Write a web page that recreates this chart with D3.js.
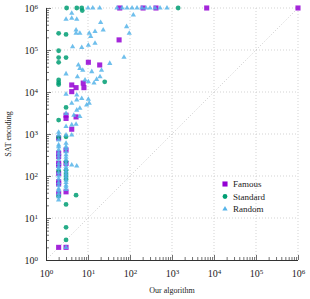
<!DOCTYPE html>
<html>
<head>
<meta charset="utf-8">
<script src="https://cdn.jsdelivr.net/npm/d3@7"></script>
<style>
  body { margin: 0; background: #fff; }
  svg { display: block; }
  svg text { font-family: "Liberation Serif", "DejaVu Serif", serif; fill: #222; }
</style>
</head>
<body>
<svg id="chart" width="310" height="299"></svg>
<script>
// values: [our algorithm, SAT encoding]
var famous = [
  [2, 2], [3, 2], [3, 42], [2, 39], [2, 65], [2, 73], [2, 116], [2, 180], [2, 200], [2, 290], [2, 350],
  [3, 200], [3, 415], [2, 800], [4.1, 1300], [3, 2350], [3, 2800], [5.2, 2550],
  [4.1, 14700], [5.2, 12700], [4.1, 10200], [7.7, 16300], [8, 12700],
  [10.2, 51000], [19, 44000], [55, 174000],
  [57, 1e6], [205, 1e6], [415, 1e6], [6700, 1e6], [1e6, 1e6]
];
var standard = [
  [3.1, 1e6], [5.4, 1e6], [7.1, 1e6], [7.3, 870000], [1400, 1e6],
  [2, 250000], [3, 235000], [2, 96000], [2, 66000], [3, 66000], [2, 51000],
  [2, 19300], [2, 16700], [2, 15000], [25, 17500],
  [3, 4300], [2, 2150], [3, 860], [2, 830],
  [2, 134], [3, 220], [3, 138], [3, 112], [3, 96], [3, 83], [2, 33], [3, 21], [5.2, 35], [3, 6], [3, 3]
];
var random = [
  [10, 1e6], [13, 1e6], [19, 1e6], [49, 1e6], [65, 1e6], [85, 1e6], [112, 1e6], [147, 1e6],
  [193, 1e6], [240, 1e6], [300, 1e6], [395, 1e6], [520, 1e6], [760, 1e6],
  [4.1, 750000], [3, 540000], [4.1, 570000], [5.4, 540000], [20, 450000], [5.2, 300000],
  [5.2, 250000], [6.4, 250000], [10.7, 250000], [11.6, 210000], [14.7, 275000], [23, 300000],
  [10.2, 130000], [14.7, 145000], [4.3, 120000], [7.1, 115000], [83, 360000], [96, 250000],
  [120, 680000], [72, 67000], [33, 48000], [5.9, 44000], [6.4, 36500], [7.5, 33000],
  [3, 27000], [5.6, 23000], [8.5, 19300], [10.2, 17600], [16, 20000], [13.9, 16300],
  [19.3, 23000], [12.3, 30500], [21, 33000], [3, 8900], [5.4, 8500], [7.1, 7000],
  [5.4, 6500], [4.1, 5400], [10.7, 5400], [9.3, 4900], [10.2, 6700], [3, 3100],
  [5.4, 3700], [6.4, 4100], [4.6, 2800], [6.4, 2600], [5.2, 1700], [4.1, 1650],
  [3, 1500], [2, 1100], [2, 950], [2, 720], [3, 950], [3, 600], [2, 550], [4.1, 950],
  [2, 500], [2, 420], [2, 350], [2, 300], [2, 250], [2, 200], [2, 170], [2, 150], [2, 120],
  [2, 100], [2, 85], [2, 70], [2, 60], [2, 50], [2, 45], [2, 38], [2, 32], [2, 27],
  [3, 500], [3, 450], [3, 380], [3, 320], [3, 280], [3, 240], [3, 200], [3, 170], [3, 150],
  [3, 130], [3, 110], [3, 95], [3, 80], [3, 70], [3, 60], [3, 55], [3, 48],
  [4.1, 182], [5.4, 173], [3, 2]
];
var seriesNames = ["Famous", "Standard", "Random"];
var seriesColors = ["#9400d3", "#009e73", "#56b4e9"];
var decades = [1, 10, 100, 1000, 10000, 100000, 1000000];

var svg = d3.select("#chart"),
    margin = {top: 8, right: 12, bottom: 39, left: 46},
    width = svg.attr("width") - margin.left - margin.right,
    height = svg.attr("height") - margin.top - margin.bottom;

var x = d3.scaleLog().domain([1, 1e6]).range([0, width]),
    y = d3.scaleLog().domain([1, 1e6]).range([height, 0]);

var g = svg.append("g")
    .attr("transform", "translate(" + margin.left + "," + margin.top + ")");

// dotted grid
g.selectAll(".gx").data(decades.slice(1)).enter().append("line")
    .attr("x1", function(d) { return x(d); }).attr("x2", function(d) { return x(d); })
    .attr("y1", 0).attr("y2", height)
    .attr("stroke", "#c8c8c8").attr("stroke-width", 0.8).attr("stroke-dasharray", "1,2");
g.selectAll(".gy").data(decades.slice(1)).enter().append("line")
    .attr("y1", function(d) { return y(d); }).attr("y2", function(d) { return y(d); })
    .attr("x1", 0).attr("x2", width)
    .attr("stroke", "#c8c8c8").attr("stroke-width", 0.8).attr("stroke-dasharray", "1,2");

// y = x diagonal
g.append("line")
    .attr("x1", x(1)).attr("y1", y(1)).attr("x2", x(1e6)).attr("y2", y(1e6))
    .attr("stroke", "#bbb").attr("stroke-width", 0.8).attr("stroke-dasharray", "1,2");

// axes with inward ticks
var minor = d3.range(0, 6).reduce(function(a, k) {
    return a.concat([2, 3, 4, 5, 6, 7, 8, 9].map(function(m) { return m * Math.pow(10, k); }));
}, []);

function sup(sel) {
    sel.each(function(d) {
        var t = d3.select(this).text("");
        t.append("tspan").text("10");
        t.append("tspan").attr("dy", "-0.45em").style("font-size", "7px").text(Math.round(Math.log10(d)));
    });
}

var xAxis = g.append("g").attr("transform", "translate(0," + height + ")");
xAxis.call(d3.axisTop(x).tickValues(decades).tickSize(5).tickFormat(""));
xAxis.append("g").call(d3.axisTop(x).tickValues(minor).tickSize(3).tickFormat(""));
xAxis.selectAll(".tick").filter(function(d) { return decades.indexOf(d) >= 0; })
    .append("text").attr("y", 17).attr("text-anchor", "middle")
    .style("font-size", "10px").call(sup);

var yAxis = g.append("g");
yAxis.call(d3.axisRight(y).tickValues(decades).tickSize(5).tickFormat(""));
yAxis.append("g").call(d3.axisRight(y).tickValues(minor).tickSize(3).tickFormat(""));
yAxis.selectAll(".tick").filter(function(d) { return decades.indexOf(d) >= 0; })
    .append("text").attr("x", -8).attr("dy", "0.35em").attr("text-anchor", "end")
    .style("font-size", "10px").call(sup);

g.selectAll(".domain").attr("stroke", "#333").attr("stroke-width", 1);
g.selectAll(".tick line").attr("stroke", "#333").attr("stroke-width", 0.7);
// only bottom and left spines
xAxis.selectAll(".domain").attr("d", "M0,0.5H" + width);
yAxis.selectAll(".domain").attr("d", "M0.5," + height + "V0");

svg.append("text")
    .attr("x", margin.left + width / 2).attr("y", 293)
    .attr("text-anchor", "middle").style("font-size", "8px").text("Our algorithm");
svg.append("text")
    .attr("transform", "translate(11," + (margin.top + height / 2) + ") rotate(-90)")
    .attr("text-anchor", "middle").style("font-size", "8px").text("SAT encoding");

// markers
var shapes = [d3.symbolSquare, d3.symbolCircle, d3.symbolTriangle];
var sizes = [26, 18, 12];
[famous, standard, random].forEach(function(data, i) {
    g.selectAll(".s" + i).data(data).enter().append("path")
        .attr("transform", function(d) { return "translate(" + x(d[0]) + "," + y(d[1]) + ")"; })
        .attr("d", d3.symbol().type(shapes[i]).size(sizes[i]))
        .attr("fill", seriesColors[i]).attr("fill-opacity", 0.85);
});

// legend
var legend = svg.append("g").attr("transform", "translate(225,184)");
seriesNames.forEach(function(name, i) {
    var row = legend.append("g").attr("transform", "translate(0," + i * 12.5 + ")");
    row.append("path").attr("d", d3.symbol().type(shapes[i]).size(sizes[i])).attr("fill", seriesColors[i]);
    row.append("text").attr("x", 8).attr("dy", "0.35em").style("font-size", "9px").text(name);
});
</script>
</body>
</html>
